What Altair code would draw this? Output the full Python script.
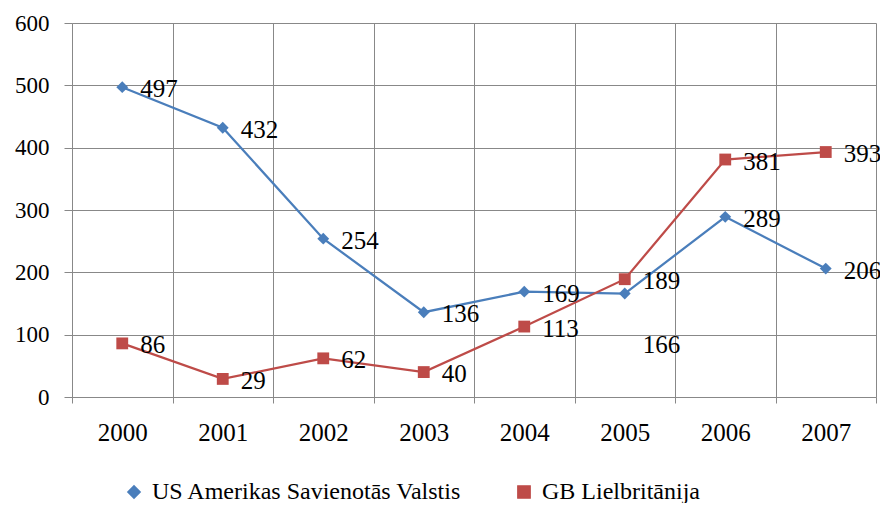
import altair as alt
import pandas as pd

years = ["2000", "2001", "2002", "2003", "2004", "2005", "2006", "2007"]
us_values = [497, 432, 254, 136, 169, 166, 289, 206]
gb_values = [86, 29, 62, 40, 113, 189, 381, 393]
series_names = ["US Amerikas Savienotās Valstis", "GB Lielbritānija"]
series_colors = ["#4A7EBB", "#BE4B48"]
y_ticks = [0, 100, 200, 300, 400, 500, 600]

rows = []
for y, v in zip(years, us_values):
    rows.append({"year": y, "value": v, "series": series_names[0]})
for y, v in zip(years, gb_values):
    rows.append({"year": y, "value": v, "series": series_names[1]})
df = pd.DataFrame(rows)

FONT = "Liberation Serif, Times New Roman, serif"
GRID = "#888888"

x_enc = alt.X("year:N", sort=years,
              scale=alt.Scale(type="band", paddingInner=0, paddingOuter=0),
              axis=alt.Axis(title=None, labelAngle=0, tickBand="extent", grid=True,
                            gridColor=GRID, domainColor=GRID, tickColor=GRID,
                            tickSize=6, labelPadding=17, labelFont=FONT,
                            labelFontSize=25, labelColor="black"))
y_enc = alt.Y("value:Q", scale=alt.Scale(domain=[0, 600], nice=False),
              axis=alt.Axis(title=None, values=y_ticks, grid=True, gridColor=GRID,
                            domainColor=GRID, tickColor=GRID, tickSize=8,
                            labelPadding=15, labelFont=FONT, labelFontSize=23,
                            labelColor="black"))

color_scale = alt.Scale(domain=series_names, range=series_colors)
shape_scale = alt.Scale(domain=series_names, range=["diamond", "square"])

legend = alt.Legend(
    orient="none", direction="horizontal", legendX=50, legendY=457,
    labelFont=FONT, labelFontSize=24, labelColor="black", labelOffset=6,
    labelLimit=500, columnPadding=50, symbolSize=150, padding=0,
    symbolOpacity=1, title=None,
)

base = alt.Chart(df)

lines = base.mark_line(strokeWidth=2.25).encode(
    x=x_enc, y=y_enc,
    color=alt.Color("series:N", scale=color_scale, legend=legend),
)

points = base.mark_point(filled=True, size=140, opacity=1).encode(
    x=x_enc, y=y_enc,
    color=alt.Color("series:N", scale=color_scale, legend=legend),
    shape=alt.Shape("series:N", scale=shape_scale, legend=legend),
)

special = f"datum.series === '{series_names[0]}' && datum.year === '2005'"

labels = base.mark_text(align="left", baseline="middle", dx=18, dy=2, font=FONT,
                        fontSize=25, color="black").encode(
    x=x_enc, y=y_enc, text="value:Q"
).transform_filter(f"!({special})")

labels_special = base.mark_text(align="left", baseline="middle", dx=18, dy=51, font=FONT,
                                fontSize=25, color="black").encode(
    x=x_enc, y=y_enc, text="value:Q"
).transform_filter(special)

chart = alt.layer(lines, points, labels, labels_special).properties(
    width=804, height=374,
    autosize=alt.AutoSizeParams(type="none"),
    padding={"left": 64, "top": 15, "right": 4, "bottom": 106},
    background="white",
).configure_view(stroke=None)

chart.save("out.html", embed_options={"renderer": "svg", "actions": False})
